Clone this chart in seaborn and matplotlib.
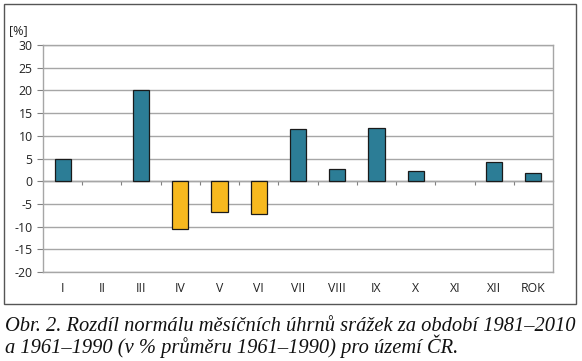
import matplotlib
matplotlib.use("Agg")
import matplotlib.pyplot as plt
import seaborn as sns
import pandas as pd
from matplotlib.patches import Rectangle

months = ["I", "II", "III", "IV", "V", "VI", "VII", "VIII", "IX", "X", "XI", "XII", "ROK"]
values = [4.9, 0.0, 20.0, -10.6, -6.8, -7.2, 11.4, 2.6, 11.7, 2.3, 0.0, 4.3, 1.8]
yticks = [-20, -15, -10, -5, 0, 5, 10, 15, 20, 25, 30]

teal = "#2C7D96"
yellow = "#F7B91F"

df = pd.DataFrame({"month": months, "value": values})
df["sign"] = ["neg" if v < 0 else "pos" for v in values]

sns.set_style("white")
plt.rcParams["font.family"] = ["Open Sans", "DejaVu Sans"]

fig = plt.figure(figsize=(5.82, 3.61), dpi=100)
ax = fig.add_axes([43/582, 1-272/361, (553-43)/582, (272-45)/361])

sns.barplot(data=df, x="month", y="value", hue="sign", order=months,
            palette={"pos": teal, "neg": yellow}, dodge=False, width=0.41,
            saturation=1, edgecolor="#1a1a1a", linewidth=0.9, legend=False,
            ax=ax, zorder=3)
for p in ax.patches:
    if abs(p.get_height()) < 1e-9:
        p.set_linewidth(0)

ax.set_ylim(-20, 30)
ax.set_xlim(-0.5, len(months) - 0.5)
ax.set_yticks(yticks)
ax.set_yticklabels([str(t) for t in yticks])
ax.set_xlabel("")
ax.set_ylabel("")
ax.grid(axis="y", color="#A6A6A6", linewidth=1.0, zorder=0)
ax.set_axisbelow(True)
for s in ax.spines.values():
    s.set_color("#A6A6A6")
    s.set_linewidth(1.0)
ax.tick_params(axis="y", direction="out", length=4, width=0.8, color="#808080",
               pad=3.5, labelsize=8.8, labelcolor="#222222", left=True)
ax.tick_params(axis="x", length=0, pad=7, labelsize=8.8, labelcolor="#222222")

# zero axis with boundary ticks
sec = ax.secondary_xaxis(0.4)
sec.set_xticks([i + 0.5 for i in range(len(months) - 1)])
sec.set_xticklabels([])
sec.tick_params(axis="x", direction="out", length=3, width=0.8, color="#808080")
sec.spines["bottom"].set_color("#8C8C8C")
sec.spines["bottom"].set_linewidth(1.0)

fig.text(9/582, 1-31/361, "[%]", fontsize=9, color="#222222", va="center", ha="left")

fig.patches.append(Rectangle((4/582, 1-304/361), (576-4)/582, (304-4)/361,
                             transform=fig.transFigure, fill=False,
                             edgecolor="#555555", linewidth=1.0))

cap_font = dict(family="Liberation Serif", style="italic", fontsize=14.75, color="#111111")
fig.text(5/582, 1-331/361, "Obr. 2. Rozdíl normálu měsíčních úhrnů srážek za období 1981–2010",
         va="baseline", ha="left", **cap_font)
fig.text(5/582, 1-353/361, "a 1961–1990 (v % průměru 1961–1990) pro území ČR.",
         va="baseline", ha="left", **cap_font)

fig.savefig("out.png", dpi=100)
